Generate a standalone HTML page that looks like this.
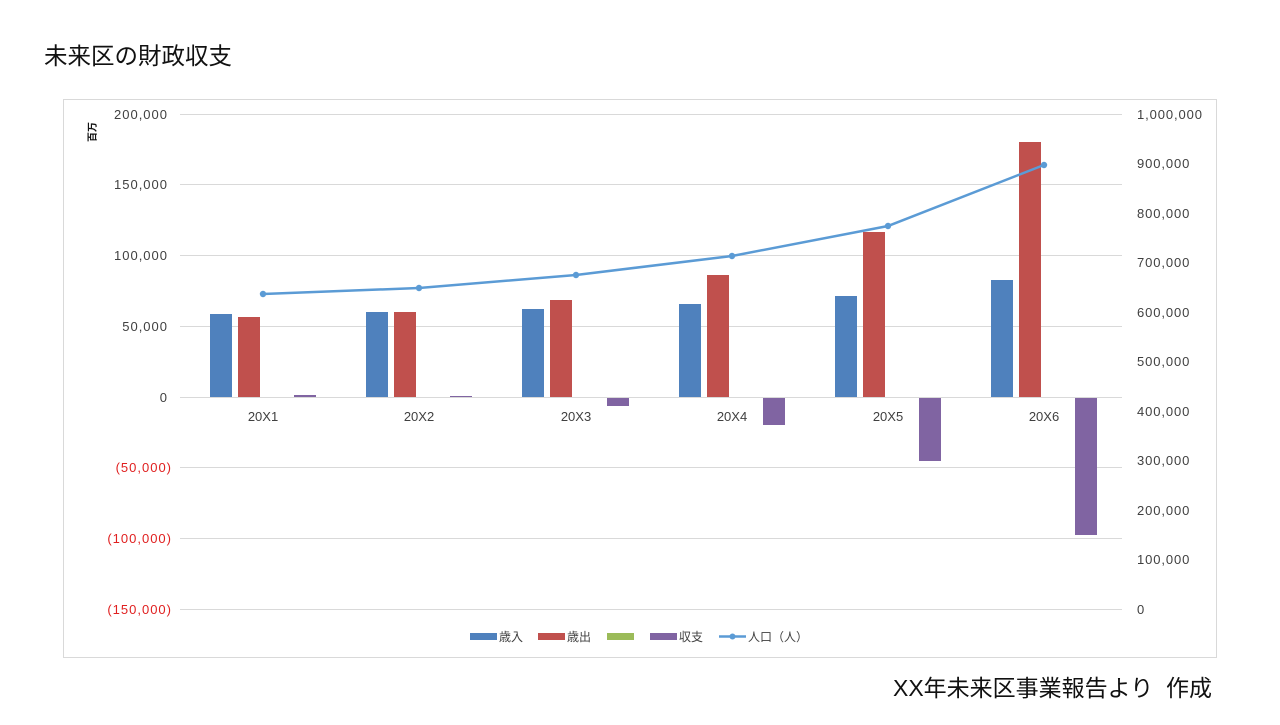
<!DOCTYPE html>
<html><head><meta charset="utf-8"><style>
html,body{margin:0;padding:0;background:#fff;}
body{width:1280px;height:720px;overflow:hidden;font-family:"Liberation Sans","Noto Sans CJK JP",sans-serif;}
</style></head><body>
<svg width="1280" height="720" viewBox="0 0 1280 720" xmlns="http://www.w3.org/2000/svg" font-family="Liberation Sans, Noto Sans CJK JP, sans-serif">
<text x="44" y="64" font-size="23.5" fill="#111">未来区の財政収支</text>
<rect x="63.5" y="99.5" width="1153" height="558" fill="#fff" stroke="#d9d9d9"/>
<g stroke="#d9d9d9" stroke-width="1">
<line x1="180" x2="1122" y1="114.5" y2="114.5"/>
<line x1="180" x2="1122" y1="184.5" y2="184.5"/>
<line x1="180" x2="1122" y1="255.5" y2="255.5"/>
<line x1="180" x2="1122" y1="326.5" y2="326.5"/>
<line x1="180" x2="1122" y1="467.5" y2="467.5"/>
<line x1="180" x2="1122" y1="538.5" y2="538.5"/>
<line x1="180" x2="1122" y1="609.5" y2="609.5"/>
</g>
<g font-size="13" fill="#404040" text-anchor="end" letter-spacing="1">
<text x="168" y="119">200,000</text>
<text x="168" y="189">150,000</text>
<text x="168" y="260">100,000</text>
<text x="168" y="331">50,000</text>
<text x="168" y="402">0</text>
<text x="172" y="472" fill="#e02020">(50,000)</text>
<text x="172" y="543" fill="#e02020">(100,000)</text>
<text x="172" y="614" fill="#e02020">(150,000)</text>
</g>
<g font-size="13" fill="#404040" text-anchor="start" letter-spacing="0.9">
<text x="1137" y="119">1,000,000</text>
<text x="1137" y="168">900,000</text>
<text x="1137" y="218">800,000</text>
<text x="1137" y="267">700,000</text>
<text x="1137" y="317">600,000</text>
<text x="1137" y="366">500,000</text>
<text x="1137" y="416">400,000</text>
<text x="1137" y="465">300,000</text>
<text x="1137" y="515">200,000</text>
<text x="1137" y="564">100,000</text>
<text x="1137" y="614">0</text>
</g>
<text transform="translate(96,132) rotate(-90)" font-size="10" font-weight="bold" fill="#111" text-anchor="middle">百万</text>
<g>
<rect x="210" y="314" width="22" height="83" fill="#4f81bd"/>
<rect x="238" y="317" width="22" height="80" fill="#c0504d"/>
<rect x="294" y="395" width="22" height="2" fill="#8064a2"/>
<rect x="366" y="312" width="22" height="85" fill="#4f81bd"/>
<rect x="394" y="312" width="22" height="85" fill="#c0504d"/>
<rect x="450" y="396" width="22" height="1" fill="#8064a2"/>
<rect x="522" y="309" width="22" height="88" fill="#4f81bd"/>
<rect x="550" y="300" width="22" height="97" fill="#c0504d"/>
<rect x="607" y="397" width="22" height="9" fill="#8064a2"/>
<rect x="679" y="304" width="22" height="93" fill="#4f81bd"/>
<rect x="707" y="275" width="22" height="122" fill="#c0504d"/>
<rect x="763" y="397" width="22" height="28" fill="#8064a2"/>
<rect x="835" y="296" width="22" height="101" fill="#4f81bd"/>
<rect x="863" y="232" width="22" height="165" fill="#c0504d"/>
<rect x="919" y="397" width="22" height="64" fill="#8064a2"/>
<rect x="991" y="280" width="22" height="117" fill="#4f81bd"/>
<rect x="1019" y="142" width="22" height="255" fill="#c0504d"/>
<rect x="1075" y="397" width="22" height="138" fill="#8064a2"/>
</g>
<line x1="180" x2="1122" y1="397.5" y2="397.5" stroke="#d9d9d9"/>
<g font-size="13" fill="#404040" text-anchor="middle">
<text x="263" y="421">20X1</text><text x="419" y="421">20X2</text><text x="576" y="421">20X3</text>
<text x="732" y="421">20X4</text><text x="888" y="421">20X5</text><text x="1044" y="421">20X6</text>
</g>
<polyline points="263,294 419,288 576,275 732,256 888,226 1044,165" fill="none" stroke="#5b9bd5" stroke-width="2.5"/>
<g fill="#5b9bd5">
<circle cx="263" cy="294" r="3.2"/><circle cx="419" cy="288" r="3.2"/><circle cx="576" cy="275" r="3.2"/>
<circle cx="732" cy="256" r="3.2"/><circle cx="888" cy="226" r="3.2"/><circle cx="1044" cy="165" r="3.2"/>
</g>
<g font-size="12" fill="#404040">
<rect x="470" y="633" width="27" height="7" fill="#4f81bd"/><text x="499" y="641">歳入</text>
<rect x="538" y="633" width="27" height="7" fill="#c0504d"/><text x="567" y="641">歳出</text>
<rect x="607" y="633" width="27" height="7" fill="#9bbb59"/>
<rect x="650" y="633" width="27" height="7" fill="#8064a2"/><text x="679" y="641">収支</text>
<line x1="719" x2="746" y1="636.5" y2="636.5" stroke="#5b9bd5" stroke-width="2.5"/>
<circle cx="732.5" cy="636.5" r="3" fill="#5b9bd5"/><text x="748" y="641">人口（人）</text>
</g>
<text x="1212" y="696" font-size="23" fill="#111" text-anchor="end">XX年未来区事業報告より&#160; 作成</text>
</svg>
</body></html>
